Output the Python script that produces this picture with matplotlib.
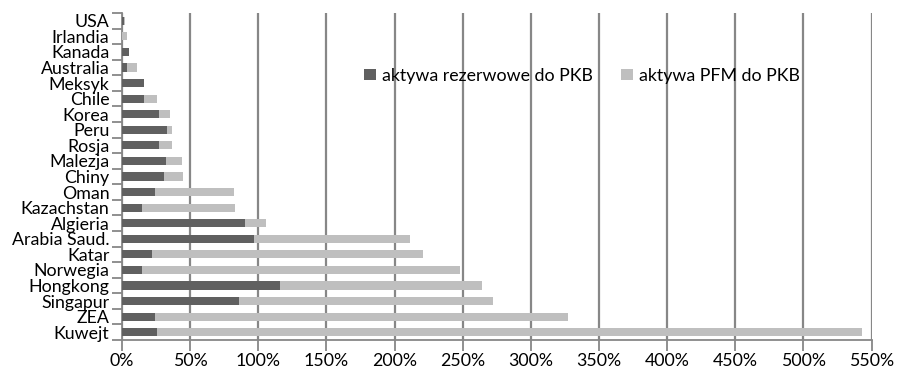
import matplotlib.pyplot as plt
from matplotlib.ticker import MultipleLocator, FuncFormatter

# kraje, od góry wykresu do dołu
kraje = ["USA", "Irlandia", "Kanada", "Australia", "Meksyk", "Chile", "Korea",
         "Peru", "Rosja", "Malezja", "Chiny", "Oman", "Kazachstan", "Algieria",
         "Arabia Saud.", "Katar", "Norwegia", "Hongkong", "Singapur", "ZEA", "Kuwejt"]

# aktywa rezerwowe do PKB (%)
rezerwy = [1.5, 0, 5, 4, 16, 16, 27, 33, 27.5, 32, 31, 24.5, 15, 90,
           97, 22, 15, 116, 86, 24.5, 26]

# aktywa PFM do PKB (%)
pfm = [0.5, 4, 0.5, 7, 0, 10, 8, 4, 9.5, 12, 14, 57.5, 68, 16,
       114, 199, 233, 148, 186, 302.5, 517]

plt.rcParams['font.family'] = ['Lato', 'DejaVu Sans']
fs = 12.8

fig = plt.figure(figsize=(9, 3.71), dpi=100)
ax = fig.add_axes([0.1355, 0.0835, 0.833, 0.8815])

y = list(range(len(kraje)))
ax.barh(y, rezerwy, height=0.52, color='#606060', label='aktywa rezerwowe do PKB', zorder=3)
ax.barh(y, pfm, left=rezerwy, height=0.52, color='#bfbfbf', label='aktywa PFM do PKB', zorder=3)

ax.set_ylim(len(kraje) - 0.5, -0.5)
ax.set_yticks(y)
ax.set_yticklabels(kraje, fontsize=fs)
ax.set_yticks([i - 0.5 for i in range(len(kraje) + 1)], minor=True)
ax.tick_params(axis='y', which='major', length=0, pad=9)
ax.tick_params(axis='y', which='minor', length=7, width=1.3, color='#878787')

ax.set_xlim(0, 550)
ax.xaxis.set_major_locator(MultipleLocator(50))
ax.xaxis.set_major_formatter(FuncFormatter(lambda v, p: f"{v:.0f}%"))
ax.tick_params(axis='x', length=8, width=1.3, color='#878787', labelsize=fs, pad=1)
ax.grid(axis='x', color='#878787', linewidth=1.6, zorder=0)

for s in ['top', 'right']:
    ax.spines[s].set_visible(False)
for s in ['left', 'bottom']:
    ax.spines[s].set_color('#878787')
    ax.spines[s].set_linewidth(1.3)

ax.legend(loc='center', bbox_to_anchor=(0.614, 0.808), ncol=2, frameon=False,
          fontsize=fs, handlelength=0.65, handleheight=0.65, handletextpad=0.35,
          columnspacing=1.6, borderaxespad=0)

fig.savefig('out.png', dpi=100)
